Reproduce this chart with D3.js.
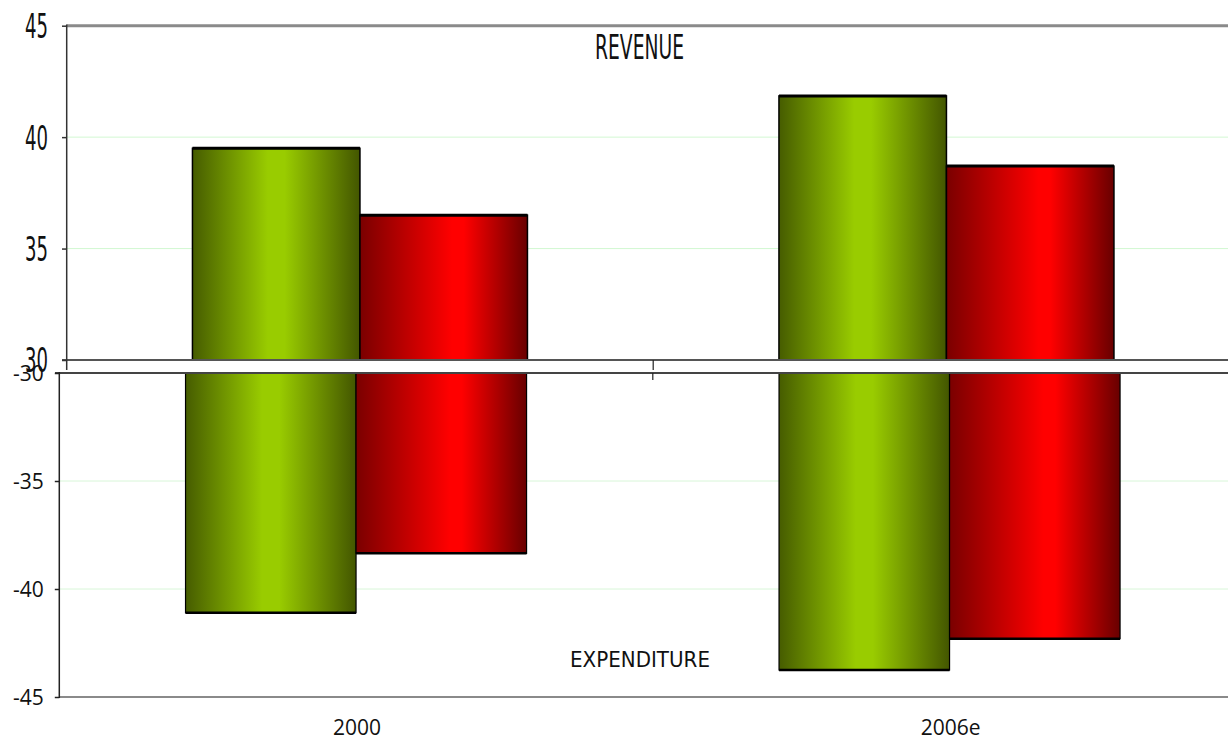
<!DOCTYPE html>
<html>
<head>
<meta charset="utf-8">
<script src="https://cdn.jsdelivr.net/npm/d3@7"></script>
<style>
  html, body { margin: 0; padding: 0; background: #fff; }
  svg { display: block; }
</style>
</head>
<body>
<svg id="chart" width="1228" height="741"></svg>
<script>
// ---- data ----
const categories = ["2000", "2006e"];
const series = ["A", "B"];
const revenueA = [39.5, 41.85];
const revenueB = [36.5, 38.7];
const expenditureA = [-41.1, -43.75];
const expenditureB = [-38.35, -42.3];
const revenueTicks = [30, 35, 40, 45];
const expenditureTicks = [-30, -35, -40, -45];

const svg = d3.select("#chart");
const W = 1228;

// gradients
const defs = svg.append("defs");
function grad(id, stops) {
  const g = defs.append("linearGradient").attr("id", id)
    .attr("x1", "0%").attr("x2", "100%").attr("y1", "0%").attr("y2", "0%");
  stops.forEach(s => g.append("stop").attr("offset", s[0]).attr("stop-color", s[1]));
}
grad("gA", [["0%", "#465c00"], ["45%", "#99cc00"], ["55%", "#99cc00"], ["100%", "#435600"]]);
grad("gB", [["0%", "#7a0000"], ["55%", "#ff0000"], ["62%", "#ff0000"], ["100%", "#680000"]]);
const fills = { A: "url(#gA)", B: "url(#gB)" };

// ---- TOP PANEL (revenue) ----
const topX0 = 66.7, topX1 = 1239.7;
const yTop = d3.scaleLinear().domain([30, 45]).range([360, 25.7]);
const xTop = d3.scaleBand().domain(categories).range([topX0, topX1])
  .paddingInner(0.4288).paddingOuter(0.2144);
const xTopS = d3.scaleBand().domain(series).range([0, xTop.bandwidth()]);

// gridlines
const topG = svg.append("g");
[35, 40].forEach(v => {
  topG.append("line").attr("x1", topX0).attr("x2", W)
    .attr("y1", yTop(v)).attr("y2", yTop(v))
    .attr("stroke", "#d2f8d2").attr("stroke-width", 1);
});
topG.append("line").attr("x1", topX0).attr("x2", W)
  .attr("y1", yTop(45)).attr("y2", yTop(45))
  .attr("stroke", "#8a8a8a").attr("stroke-width", 3);

const topData = [];
categories.forEach((c, i) => {
  topData.push({ c, s: "A", v: revenueA[i] });
  topData.push({ c, s: "B", v: revenueB[i] });
});
const tb = topG.selectAll("g.bar").data(topData).join("g").attr("class", "bar");
tb.append("rect")
  .attr("x", d => xTop(d.c) + xTopS(d.s))
  .attr("y", d => yTop(d.v))
  .attr("width", xTopS.bandwidth())
  .attr("height", d => yTop(30) - yTop(d.v))
  .attr("fill", d => fills[d.s])
  .attr("stroke", "#000").attr("stroke-width", 1.5);
tb.append("line")
  .attr("x1", d => xTop(d.c) + xTopS(d.s))
  .attr("x2", d => xTop(d.c) + xTopS(d.s) + xTopS.bandwidth())
  .attr("y1", d => yTop(d.v)).attr("y2", d => yTop(d.v))
  .attr("stroke", "#000").attr("stroke-width", 3);

// baseline of top panel
topG.append("line").attr("x1", 62).attr("x2", W)
  .attr("y1", yTop(30)).attr("y2", yTop(30))
  .attr("stroke", "#555").attr("stroke-width", 2);
// category separator tick
topG.append("line").attr("x1", xTop(categories[1]) - xTop.step() * xTop.paddingInner() / 2)
  .attr("x2", xTop(categories[1]) - xTop.step() * xTop.paddingInner() / 2)
  .attr("y1", yTop(30)).attr("y2", yTop(30) + 10)
  .attr("stroke", "#222").attr("stroke-width", 1.2);

// y axis top
const axTop = svg.append("g").attr("transform", `translate(${topX0},0)`)
  .call(d3.axisLeft(yTop).tickValues(revenueTicks).tickSize(4.7).tickPadding(14)
    .tickFormat(d => String(d)));
axTop.select(".domain").remove();
axTop.append("line").attr("x1", 0).attr("x2", 0).attr("y1", 24.5).attr("y2", 370)
  .attr("stroke", "#333").attr("stroke-width", 1.5);
axTop.selectAll(".tick line").attr("stroke", "#333").attr("stroke-width", 1.5);
axTop.selectAll(".tick text")
  .attr("font-family", "DejaVu Sans, sans-serif").attr("font-size", 33)
  .attr("fill", "#111")
  .attr("textLength", 23).attr("lengthAdjust", "spacingAndGlyphs")
  .attr("dy", "0.36em");

svg.append("text").text("REVENUE")
  .attr("x", 595).attr("y", 59)
  .attr("font-family", "DejaVu Sans, sans-serif").attr("font-size", 33)
  .attr("fill", "#111")
  .attr("textLength", 89).attr("lengthAdjust", "spacingAndGlyphs");

// ---- BOTTOM PANEL (expenditure) ----
const botX0 = 59.3, botX1 = 1246.3;
const yBot = d3.scaleLinear().domain([-30, -45]).range([373, 697]);
const xBot = d3.scaleBand().domain(categories).range([botX0, botX1])
  .paddingInner(0.4254).paddingOuter(0.2127);
const xBotS = d3.scaleBand().domain(series).range([0, xBot.bandwidth()]);

const botG = svg.append("g");
[-35, -40].forEach(v => {
  botG.append("line").attr("x1", botX0).attr("x2", W)
    .attr("y1", yBot(v)).attr("y2", yBot(v))
    .attr("stroke", "#d8f6d8").attr("stroke-width", 1);
});
botG.append("line").attr("x1", botX0).attr("x2", W)
  .attr("y1", yBot(-45)).attr("y2", yBot(-45))
  .attr("stroke", "#8a8a8a").attr("stroke-width", 2);

const botData = [];
categories.forEach((c, i) => {
  botData.push({ c, s: "A", v: expenditureA[i] });
  botData.push({ c, s: "B", v: expenditureB[i] });
});
const bb = botG.selectAll("g.bar").data(botData).join("g").attr("class", "bar");
bb.append("rect")
  .attr("x", d => xBot(d.c) + xBotS(d.s))
  .attr("y", yBot(-30))
  .attr("width", xBotS.bandwidth())
  .attr("height", d => yBot(d.v) - yBot(-30))
  .attr("fill", d => fills[d.s])
  .attr("stroke", "#000").attr("stroke-width", 1.2);
bb.append("line")
  .attr("x1", d => xBot(d.c) + xBotS(d.s))
  .attr("x2", d => xBot(d.c) + xBotS(d.s) + xBotS.bandwidth())
  .attr("y1", d => yBot(d.v)).attr("y2", d => yBot(d.v))
  .attr("stroke", "#000").attr("stroke-width", 2.5);

botG.append("line").attr("x1", 55).attr("x2", W)
  .attr("y1", yBot(-30)).attr("y2", yBot(-30))
  .attr("stroke", "#444").attr("stroke-width", 2);
botG.append("line").attr("x1", xBot(categories[1]) - xBot.step() * xBot.paddingInner() / 2)
  .attr("x2", xBot(categories[1]) - xBot.step() * xBot.paddingInner() / 2)
  .attr("y1", yBot(-30)).attr("y2", yBot(-30) + 7)
  .attr("stroke", "#222").attr("stroke-width", 1.2);

const axBot = svg.append("g").attr("transform", `translate(${botX0},0)`)
  .call(d3.axisLeft(yBot).tickValues(expenditureTicks).tickSize(4.5).tickPadding(11)
    .tickFormat(d => String(d)));
axBot.select(".domain").remove();
axBot.append("line").attr("x1", 0).attr("x2", 0).attr("y1", 372).attr("y2", 698)
  .attr("stroke", "#222").attr("stroke-width", 1.5);
axBot.selectAll(".tick line").attr("stroke", "#222").attr("stroke-width", 1.5);
axBot.selectAll(".tick text")
  .attr("font-family", "Open Sans, sans-serif").attr("font-size", 21)
  .attr("fill", "#111").attr("dy", "0.36em");

// category labels
svg.append("g").selectAll("text").data(categories).join("text")
  .attr("x", d => xBot(d) + xBot.bandwidth() / 2 + 1)
  .attr("y", 735)
  .attr("text-anchor", "middle")
  .attr("font-family", "Open Sans, sans-serif").attr("font-size", 21)
  .attr("fill", "#111")
  .text(d => d);

svg.append("text").text("EXPENDITURE")
  .attr("x", 570).attr("y", 667)
  .attr("font-family", "DejaVu Sans, sans-serif").attr("font-size", 21)
  .attr("fill", "#111")
  .attr("textLength", 140).attr("lengthAdjust", "spacingAndGlyphs");
</script>
</body>
</html>
